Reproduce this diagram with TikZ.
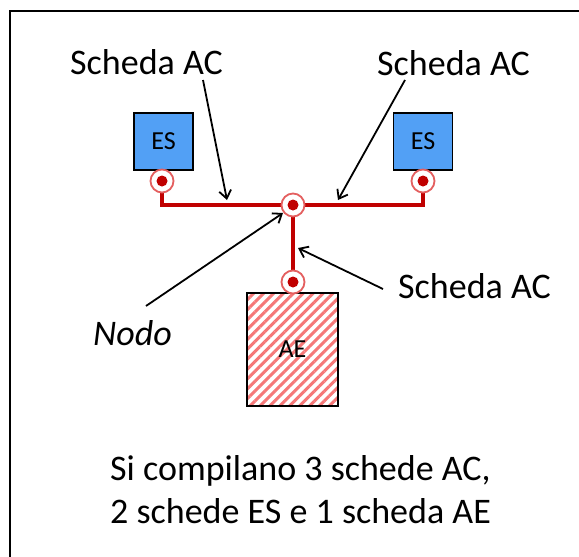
\documentclass[tikz,border=0pt]{standalone}
\usepackage{fontspec}
\setmainfont{Carlito}
\usetikzlibrary{arrows.meta,patterns.meta}
\definecolor{busred}{RGB}{192,0,0}
\definecolor{ringred}{RGB}{228,95,95}
\definecolor{esblue}{RGB}{82,160,245}
\definecolor{hatchred}{RGB}{245,120,120}
\begin{document}
\begin{tikzpicture}[x=1pt,y=-1pt,
  lbl/.style={anchor=base west,inner sep=0pt,font=\fontsize{36}{43}\selectfont},
  bus/.style={busred,line width=4.5pt},
  ring/.style={circle,draw=ringred,fill=white,line width=1.8pt,minimum size=23pt,inner sep=0pt,
    path picture={\fill[busred] (path picture bounding box.center) circle (5.5pt);}},
  esbox/.style={draw,line width=1.4pt,fill=esblue,minimum width=59pt,minimum height=57pt,inner sep=0pt,
    font=\fontsize{26}{30}\selectfont},
  aebox/.style={draw,line width=1.6pt,minimum width=91pt,minimum height=113pt,inner sep=0pt,
    pattern={Lines[angle=45,distance=7pt,line width=3pt]},pattern color=hatchred},
  arr/.style={-{Straight Barb[length=8pt,width=12pt]},line width=1.8pt}]
\useasboundingbox (0,0) rectangle (579,557);
\fill[white] (0,0) rectangle (579,557);
\draw[line width=2.2pt] (10,557) -- (10,11) -- (579,11);
% boxes
\node[esbox] (es1) at (163.5,141.5) {ES};
\node[esbox] (es2) at (423,141.5) {ES};
\node[aebox] (ae) at (292.5,349.5) {};
\node[font=\fontsize{26}{30}\selectfont] (aelbl) at (292.5,349.5) {AE};
% bus
\coordinate (pL) at (162,181);
\coordinate (pN) at (293,205);
\coordinate (pR) at (423,181);
\coordinate (pB) at (293,282);
\draw[bus] (pL) |- (pN) -| (pR);
\draw[bus] (pN) -- (pB);
\node[ring] (rL) at (pL) {};
\node[ring] (rN) at (pN) {};
\node[ring] (rR) at (pR) {};
\node[ring] (rB) at (pB) {};
% labels
\node[lbl] (tTL) at (70,74) {Scheda AC};
\node[lbl] (tTR) at (377,75) {Scheda AC};
\node[lbl] (tR) at (398,298) {Scheda AC};
\node[lbl] (tN) at (93,345) {\itshape Nodo};
\node[lbl] (tB1) at (110,480) {Si compilano 3 schede AC,};
\node[lbl] (tB2) at (110,523) {2 schede ES e 1 scheda AE};
% arrows
\coordinate (sTL) at (203,80);  \coordinate (eTL) at (227,200);
\coordinate (sTR) at (405,80);  \coordinate (eTR) at (338,200);
\coordinate (sN) at (146,306);  \coordinate (eN) at (283,213);
\coordinate (sR) at (383,289);  \coordinate (eR) at (298,248);
\draw[arr] (sTL) -- (eTL);
\draw[arr] (sTR) -- (eTR);
\draw[arr] (sN) -- (eN);
\draw[arr] (sR) -- (eR);
\end{tikzpicture}
\end{document}
